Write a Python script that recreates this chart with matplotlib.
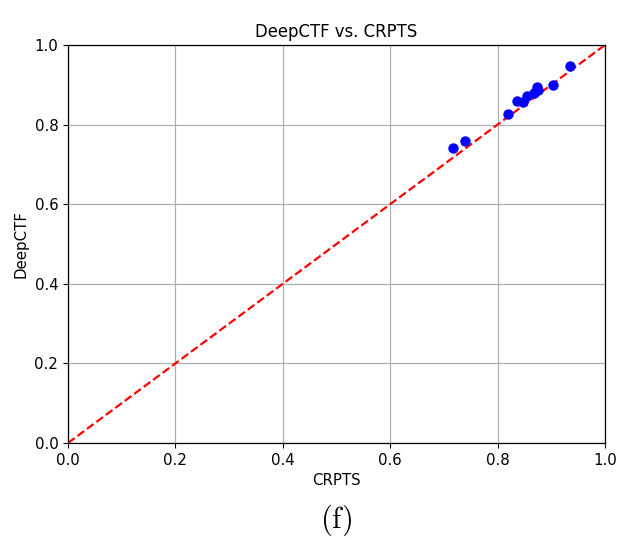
import matplotlib
matplotlib.use("Agg")
import matplotlib.pyplot as plt

crpts = [0.717, 0.739, 0.819, 0.837, 0.847, 0.855, 0.867, 0.873, 0.876, 0.904, 0.935]
deepctf = [0.740, 0.759, 0.826, 0.859, 0.858, 0.871, 0.880, 0.895, 0.886, 0.900, 0.948]
ticks = [0.0, 0.2, 0.4, 0.6, 0.8, 1.0]

plt.rcParams['mathtext.fontset'] = 'cm'
fs = 10.8
fig = plt.figure(figsize=(6.21, 5.38), dpi=100)
ax = fig.add_axes([68/621, 95/538, 537/621, 398/538])
ax.scatter(crpts, deepctf, color='blue', s=36*1.17, zorder=3)
ax.plot([0, 1], [0, 1], 'r--', lw=1.6, zorder=2)
ax.set_xlim(0, 1)
ax.set_ylim(0, 1)
ax.set_xticks(ticks)
ax.set_yticks(ticks)
ax.set_xticklabels([f"{t:.1f}" for t in ticks], fontsize=fs)
ax.set_yticklabels([f"{t:.1f}" for t in ticks], fontsize=fs)
ax.grid(True, color='#b0b0b0', lw=0.9)
ax.set_axisbelow(True)
ax.set_title("DeepCTF vs. CRPTS", fontsize=fs*1.1, pad=6)
ax.set_xlabel("CRPTS", fontsize=fs)
ax.set_ylabel("DeepCTF", fontsize=fs)
for s in ax.spines.values():
    s.set_linewidth(0.9)
fig.text(336/621, 1 - 520/538, r'$\mathrm{(f)}$', fontsize=22, ha='center', va='center')
fig.savefig("out.png", dpi=100)
